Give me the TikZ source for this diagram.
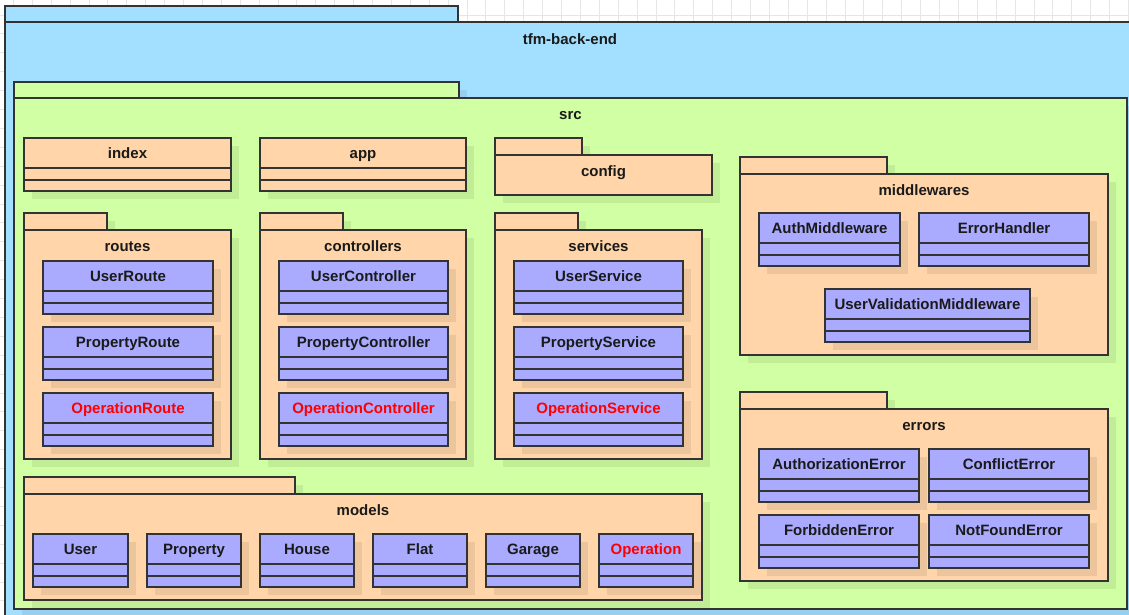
\documentclass[tikz,border=0pt]{standalone}
\usepackage{fontspec}
\setmainfont{Liberation Sans}
\definecolor{linec}{HTML}{333333}
\definecolor{textc}{HTML}{1A1A1A}
\definecolor{gridc}{HTML}{E6E6E6}
\definecolor{bluec}{HTML}{A3DFFF}
\definecolor{greenc}{HTML}{D1FFA3}
\definecolor{orangec}{HTML}{FFD5A9}
\definecolor{classc}{HTML}{AAAAFF}
\definecolor{redc}{HTML}{FF0000}

% UML class: header with name, then two empty compartments
% #1 name, #2 x, #3 y, #4 width, #5 text, #6 fill, #7 text colour
\newcommand\classbox[7]{%
  \fill[drop] (#2+8,#3+8) rectangle ++(#4,53);
  \node[classhead, fill=#6, text=#7, minimum width=#4] (#1) at (#2,#3) {#5};
  \draw[frame, fill=#6] (#1.south west) rectangle ++(#4,12);
  \draw[frame, fill=#6] (#1.south west) ++(0,12) rectangle ++(#4,11);
}
% UML package: tab and body with title
% #1 name, #2 left, #3 tab top, #4 tab right, #5 body top, #6 right, #7 bottom, #8 title, #9 fill
\newcommand\package[9]{%
  \fill[drop] (#2+8,#3+8) rectangle (#4+8,#5+8);
  \fill[drop] (#2+8,#5+8) rectangle (#6+8,#7+8);
  \draw[frame, fill=#9] (#2,#3) rectangle (#4,#5);
  \draw[frame, fill=#9] (#2,#5) rectangle (#6,#7);
  \node[label] (#1) at ({(#2+#6)/2},{#5+16.5}) {#8};
}

\begin{document}
\begin{tikzpicture}[x=1pt,y=-1pt,
  frame/.style={draw=linec, line width=1.3pt},
  drop/.style={fill=black, fill opacity=0.07},
  label/.style={font=\fontsize{15}{18}\selectfont\bfseries, text=textc,
    inner sep=0pt, text height=11pt, text depth=1pt},
  classhead/.style={frame, minimum height=30, inner sep=0pt, outer sep=0pt,
    anchor=north west, font=\fontsize{15}{18}\selectfont\bfseries,
    text height=11pt, text depth=1pt}
]
\useasboundingbox (0,0) rectangle (1129,614);
\clip (0,0) rectangle (1129,614);
\fill[white] (0,0) rectangle (1129,614);

% background grid
\foreach \i in {-1,...,60}
  \draw[gridc, line width=0.9pt] ({13.4+18.9*\i},0) -- ({13.4+18.9*\i},614);
\foreach \j in {-1,...,33}
  \draw[gridc, line width=0.9pt] (0,{15+18.9*\j}) -- (1129,{15+18.9*\j});

% outer package
\draw[frame, fill=bluec] (5,6) rectangle (458,22);
\draw[frame, fill=bluec] (5,22) rectangle (1150,640);
\node[label] (root) at (570,39.5) {tfm-back-end};

\package{src}{14}{82}{459}{98}{1127}{609}{src}{greenc}

\classbox{index}{24}{138}{207}{index}{orangec}{textc}
\classbox{app}{260}{138}{206}{app}{orangec}{textc}
\package{config}{495}{138}{582}{155}{712}{195}{config}{orangec}

\package{routes}{24}{213}{107}{230}{231}{459}{routes}{orangec}
\classbox{userroute}{43}{261}{170}{UserRoute}{classc}{textc}
\classbox{propertyroute}{43}{327}{170}{PropertyRoute}{classc}{textc}
\classbox{operationroute}{43}{393}{170}{OperationRoute}{classc}{redc}

\package{controllers}{260}{213}{343}{230}{466}{459}{controllers}{orangec}
\classbox{userctl}{279}{261}{169}{UserController}{classc}{textc}
\classbox{propertyctl}{279}{327}{169}{PropertyController}{classc}{textc}
\classbox{operationctl}{279}{393}{169}{OperationController}{classc}{redc}

\package{services}{495}{213}{578}{230}{702}{459}{services}{orangec}
\classbox{usersvc}{514}{261}{169}{UserService}{classc}{textc}
\classbox{propertysvc}{514}{327}{169}{PropertyService}{classc}{textc}
\classbox{operationsvc}{514}{393}{169}{OperationService}{classc}{redc}

\package{models}{24}{477}{295}{494}{702}{600}{models}{orangec}
\classbox{user}{33}{534}{95}{User}{classc}{textc}
\classbox{property}{147}{534}{94}{Property}{classc}{textc}
\classbox{house}{260}{534}{94}{House}{classc}{textc}
\classbox{flat}{373}{534}{94}{Flat}{classc}{textc}
\classbox{garage}{486}{534}{94}{Garage}{classc}{textc}
\classbox{operation}{599}{534}{94}{Operation}{classc}{redc}

\package{middlewares}{740}{157}{887}{174}{1108}{355}{middlewares}{orangec}
\classbox{authmw}{759}{213}{141}{AuthMiddleware}{classc}{textc}
\classbox{errhandler}{919}{213}{170}{ErrorHandler}{classc}{textc}
\classbox{uservalmw}{825}{289}{205}{UserValidationMiddleware}{classc}{textc}

\package{errors}{740}{392}{887}{409}{1108}{581}{errors}{orangec}
\classbox{autherr}{759}{449}{160}{AuthorizationError}{classc}{textc}
\classbox{conflicterr}{929}{449}{160}{ConflictError}{classc}{textc}
\classbox{forbiddenerr}{759}{515}{160}{ForbiddenError}{classc}{textc}
\classbox{notfounderr}{929}{515}{160}{NotFoundError}{classc}{textc}
\end{tikzpicture}
\end{document}
